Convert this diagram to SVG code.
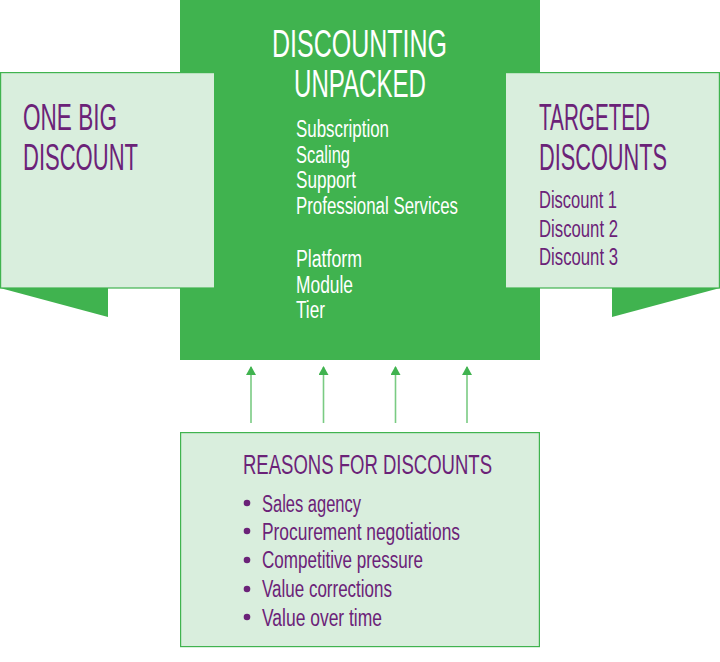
<svg xmlns="http://www.w3.org/2000/svg" width="720" height="662" viewBox="0 0 720 662">
<style>
.t{font-family:"Liberation Sans","DejaVu Sans",sans-serif}
.p{fill:#6b2278}
.w{fill:#ffffff}
.panel{fill:#d9eedd;stroke:#40b34f;stroke-width:1.2}
.green{fill:#40b34f}
.arr{stroke:#7acb83;stroke-width:1.6;fill:none}
</style>
<defs>
<marker id="ah" viewBox="0 0 9 10" refX="8" refY="5" markerWidth="9" markerHeight="10" markerUnits="userSpaceOnUse" orient="auto">
<path d="M0,0 L9,5 L0,10 Z" fill="#40b34f"/>
</marker>
</defs>
<rect width="720" height="662" fill="#ffffff"/>
<g id="center">
<rect class="green" x="180" y="0" width="360" height="360"/>
<text class="t w" x="272" y="57" font-size="38" textLength="175" lengthAdjust="spacingAndGlyphs">DISCOUNTING</text>
<text class="t w" x="294" y="97" font-size="38" textLength="132" lengthAdjust="spacingAndGlyphs">UNPACKED</text>
<g class="t w" font-size="23">
<text x="296" y="137" textLength="93" lengthAdjust="spacingAndGlyphs">Subscription</text>
<text x="296" y="163" textLength="54" lengthAdjust="spacingAndGlyphs">Scaling</text>
<text x="296" y="188" textLength="60" lengthAdjust="spacingAndGlyphs">Support</text>
<text x="296" y="214" textLength="162" lengthAdjust="spacingAndGlyphs">Professional Services</text>
<text x="296" y="267" textLength="66" lengthAdjust="spacingAndGlyphs">Platform</text>
<text x="296" y="293" textLength="57" lengthAdjust="spacingAndGlyphs">Module</text>
<text x="296" y="318" textLength="29" lengthAdjust="spacingAndGlyphs">Tier</text>
</g>
</g>
<g id="left-panel">
<polygon class="green" points="0,288 108,288 108,317"/>
<rect class="panel" x="0.6" y="72.6" width="214" height="215.4"/>
<text class="t p" x="23" y="130" font-size="37" textLength="94" lengthAdjust="spacingAndGlyphs">ONE BIG</text>
<text class="t p" x="23" y="170" font-size="37" textLength="115" lengthAdjust="spacingAndGlyphs">DISCOUNT</text>
</g>
<g id="right-panel">
<polygon class="green" points="612,288 720,288 612,317"/>
<rect class="panel" x="505.4" y="72.6" width="214" height="215.4"/>
<text class="t p" x="539" y="130" font-size="37" textLength="111" lengthAdjust="spacingAndGlyphs">TARGETED</text>
<text class="t p" x="539" y="170" font-size="37" textLength="128" lengthAdjust="spacingAndGlyphs">DISCOUNTS</text>
<g class="t p" font-size="23">
<text x="539" y="208" textLength="78" lengthAdjust="spacingAndGlyphs">Discount 1</text>
<text x="539" y="237" textLength="79" lengthAdjust="spacingAndGlyphs">Discount 2</text>
<text x="539" y="265" textLength="79" lengthAdjust="spacingAndGlyphs">Discount 3</text>
</g>
</g>
<g id="connectors">
<line class="arr" x1="251" y1="423" x2="251" y2="367" marker-end="url(#ah)"/>
<line class="arr" x1="323.5" y1="423" x2="323.5" y2="367" marker-end="url(#ah)"/>
<line class="arr" x1="395.5" y1="423" x2="395.5" y2="367" marker-end="url(#ah)"/>
<line class="arr" x1="467" y1="423" x2="467" y2="367" marker-end="url(#ah)"/>
</g>
<g id="reasons">
<rect class="panel" x="180.6" y="432.6" width="358.8" height="214"/>
<text class="t p" x="243" y="474" font-size="27" textLength="249" lengthAdjust="spacingAndGlyphs">REASONS FOR DISCOUNTS</text>
<g class="t p" font-size="23">
<circle cx="247" cy="503" r="3.3"/>
<circle cx="247" cy="531" r="3.3"/>
<circle cx="247" cy="560" r="3.3"/>
<circle cx="247" cy="589" r="3.3"/>
<circle cx="247" cy="617" r="3.3"/>
<text x="262" y="512" textLength="99" lengthAdjust="spacingAndGlyphs">Sales agency</text>
<text x="262" y="540" textLength="198" lengthAdjust="spacingAndGlyphs">Procurement negotiations</text>
<text x="262" y="568" textLength="161" lengthAdjust="spacingAndGlyphs">Competitive pressure</text>
<text x="262" y="597" textLength="130" lengthAdjust="spacingAndGlyphs">Value corrections</text>
<text x="262" y="626" textLength="120" lengthAdjust="spacingAndGlyphs">Value over time</text>
</g>
</g>
</svg>
